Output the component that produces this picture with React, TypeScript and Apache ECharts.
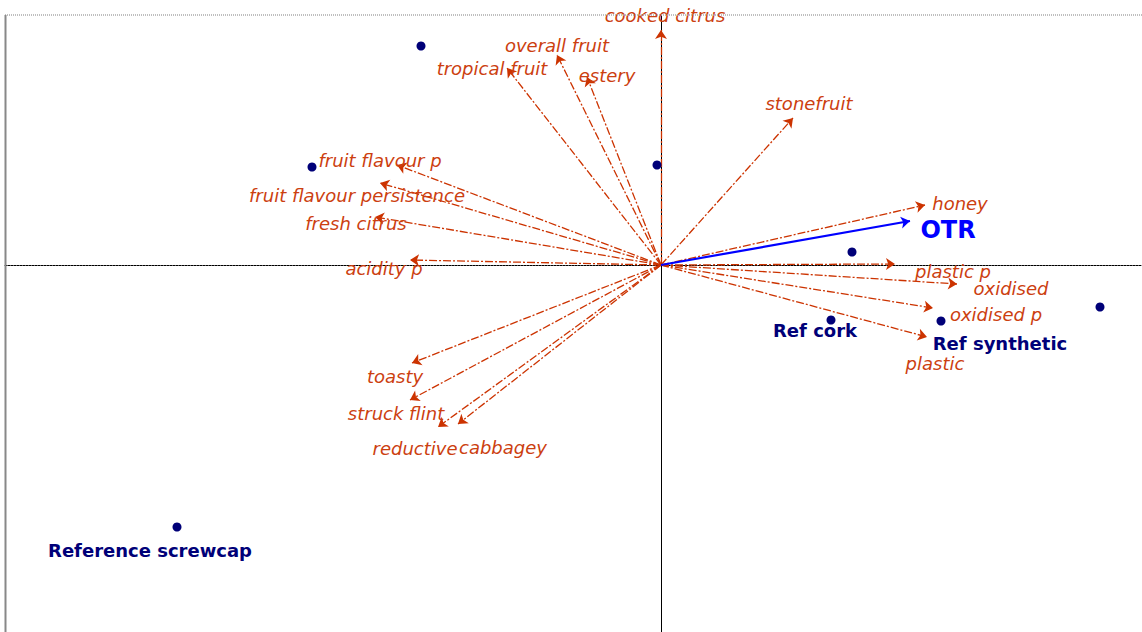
import React, { useEffect, useRef } from "react";
import * as echarts from "echarts";

// Attribute vectors (biplot loadings)
const attrNames = [
  "cooked citrus", "overall fruit", "tropical fruit", "estery", "stonefruit",
  "fruit flavour p", "fruit flavour persistence", "fresh citrus", "acidity p",
  "honey", "plastic p", "oxidised", "oxidised p", "plastic",
  "toasty", "struck flint", "reductive", "cabbagey",
];
const attrX = [0, -0.52, -0.77, -0.37, 0.66, -1.32, -1.405, -1.43, -1.255, 1.32, 1.17, 1.48, 1.36, 1.33, -1.245, -1.255, -1.115, -1.015];
const attrY = [1.175, 1.05, 0.985, 0.94, 0.735, 0.5, 0.41, 0.24, 0.025, 0.3, 0.005, -0.095, -0.215, -0.36, -0.49, -0.675, -0.81, -0.795];
const attrLabelX = [0.02, -0.52, -0.845, -0.27, 0.74, -1.405, -1.52, -1.525, -1.385, 1.495, 1.46, 1.75, 1.675, 1.37, -1.33, -1.325, -1.23, -0.79];
const attrLabelY = [1.25, 1.1, 0.985, 0.95, 0.81, 0.525, 0.35, 0.21, -0.015, 0.31, -0.03, -0.115, -0.245, -0.49, -0.555, -0.74, -0.915, -0.91];

// Supplementary vector
const otrName = "OTR";
const otrX = 1.245;
const otrY = 0.22;
const otrLabelX = 1.435;
const otrLabelY = 0.175;

// Sample scores
const sampleNames = ["", "", "", "", "", "Ref cork", "Ref synthetic", "Reference screwcap"];
const sampleX = [-1.2, -1.745, -0.02, 0.955, 2.195, 0.85, 1.4, -2.42];
const sampleY = [1.095, 0.49, 0.5, 0.065, -0.21, -0.275, -0.28, -1.31];
const sampleLabelX = [0.77, 1.695, -2.555];
const sampleLabelY = [-0.325, -0.39, -1.425];
const sampleLabelNames = ["Ref cork", "Ref synthetic", "Reference screwcap"];

const xMin = -3.28, xMax = 2.405, yMin = -1.835, yMax = 1.25;

const ARROW = "#cc3300";
const ALABEL = "#cc4010";
const NAVY = "#000078";
const BLUE = "#0000ff";

export default function App() {
  const ref = useRef<HTMLDivElement>(null);
  useEffect(() => {
    if (!ref.current) return;
    const chart = echarts.init(ref.current, null, { renderer: "svg" });
    const option: any = {
      animation: false,
      backgroundColor: "#ffffff",
      grid: { left: 5, top: 15, right: 0, bottom: 0 },
      xAxis: {
        type: "value", min: xMin, max: xMax,
        splitLine: { show: false }, axisTick: { show: false }, axisLabel: { show: false },
        axisLine: { onZero: true, lineStyle: { color: "#000", width: 1, type: [2, 1] } },
      },
      yAxis: {
        type: "value", min: yMin, max: yMax,
        splitLine: { show: false }, axisTick: { show: false }, axisLabel: { show: false },
        axisLine: { onZero: true, lineStyle: { color: "#000", width: 1 } },
      },
      graphic: [
        { type: "line", shape: { x1: 5, y1: 15, x2: 1142, y2: 15 }, style: { stroke: "#aaaaaa", lineWidth: 1.5, lineDash: [1, 1] }, z: 10 },
        { type: "line", shape: { x1: 5.5, y1: 15, x2: 5.5, y2: 632 }, style: { stroke: "#888888", lineWidth: 2 }, z: 10 },
      ],
      series: [
        {
          type: "lines", coordinateSystem: "cartesian2d", z: 3,
          symbol: ["none", "arrow"], symbolSize: 9,
          lineStyle: { color: ARROW, width: 1.3, type: [8, 2, 2, 2], opacity: 1 },
          data: attrNames.map((n, i) => ({ name: n, coords: [[0, 0], [attrX[i], attrY[i]]] })),
        },
        {
          type: "lines", coordinateSystem: "cartesian2d", z: 4,
          symbol: ["none", "arrow"], symbolSize: 9,
          lineStyle: { color: BLUE, width: 2.2, opacity: 1 },
          data: [{ name: otrName, coords: [[0, 0], [otrX, otrY]] }],
        },
        {
          type: "scatter", z: 5, symbolSize: 0, silent: true,
          itemStyle: { opacity: 1 },
          label: {
            show: true, position: "inside", formatter: "{b}", color: ALABEL, opacity: 1,
            fontFamily: "DejaVu Sans", fontStyle: "italic", fontSize: 18,
          },
          data: attrNames.map((n, i) => ({ name: n, value: [attrLabelX[i], attrLabelY[i]] })),
        },
        {
          type: "scatter", z: 5, symbolSize: 0, silent: true,
          itemStyle: { opacity: 1 },
          label: {
            show: true, position: "inside", formatter: "{b}", color: BLUE, opacity: 1,
            fontFamily: "DejaVu Sans", fontWeight: "bold", fontSize: 24,
          },
          data: [{ name: otrName, value: [otrLabelX, otrLabelY] }],
        },
        {
          type: "scatter", z: 6, symbol: "circle", symbolSize: 9,
          itemStyle: { color: NAVY, opacity: 1 },
          data: sampleNames.map((n, i) => ({ name: n, value: [sampleX[i], sampleY[i]] })),
        },
        {
          type: "scatter", z: 6, symbolSize: 0, silent: true,
          itemStyle: { opacity: 1 },
          label: {
            show: true, position: "inside", formatter: "{b}", color: NAVY, opacity: 1,
            fontFamily: "DejaVu Sans", fontWeight: "bold", fontSize: 18,
          },
          data: sampleLabelNames.map((n, i) => ({ name: n, value: [sampleLabelX[i], sampleLabelY[i]] })),
        },
      ],
    };
    chart.setOption(option);
    return () => chart.dispose();
  }, []);
  return (
    <div
      ref={ref}
      style={{ position: "fixed", left: 0, top: 0, width: 1142, height: 632, background: "#fff" }}
    />
  );
}
